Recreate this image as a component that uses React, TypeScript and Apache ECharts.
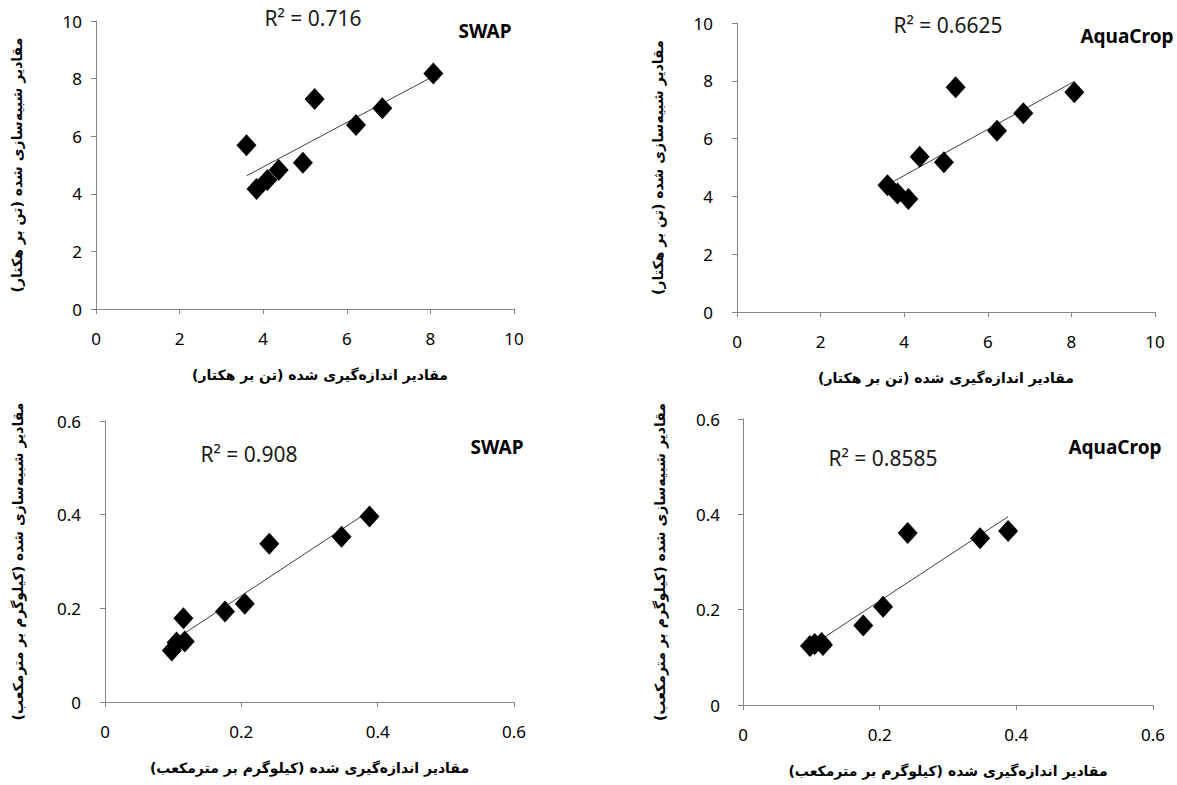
import React, { useEffect, useRef } from "react";
import * as echarts from "echarts";

// Yield (t/ha): measured vs simulated
const yieldMeasured = [3.6, 3.84, 4.1, 4.37, 4.95, 5.23, 6.22, 6.85, 8.07];
const yieldSwap = [5.69, 4.17, 4.48, 4.83, 5.08, 7.29, 6.39, 6.97, 8.18];
const yieldAqua = [4.39, 4.1, 3.91, 5.37, 5.18, 7.78, 6.27, 6.88, 7.6];

// Water productivity (kg/m3): measured vs simulated
const wpMeasured = [0.098, 0.105, 0.115, 0.117, 0.176, 0.205, 0.241, 0.347, 0.388];
const wpSwap = [0.11, 0.127, 0.179, 0.129, 0.193, 0.21, 0.338, 0.353, 0.396];
const wpAqua = [0.124, 0.128, 0.13, 0.126, 0.167, 0.206, 0.361, 0.35, 0.365];

const r2Labels = ["R² = 0.716", "R² = 0.6625", "R² = 0.908", "R² = 0.8585"];
const modelLabels = ["SWAP", "AquaCrop", "SWAP", "AquaCrop"];

const xTitleYield = "مقادیر اندازه‌گیری شده (تن بر هکتار)";
const yTitleYield = "مقادیر شبیه‌سازی شده (تن بر هکتار)";
const xTitleWp = "مقادیر اندازه‌گیری شده (کیلوگرم بر مترمکعب)";
const yTitleWp = "مقادیر شبیه‌سازی شده (کیلوگرم بر مترمکعب)";

function trend(xs: number[], ys: number[]) {
  const n = xs.length;
  const mx = xs.reduce((a, b) => a + b, 0) / n;
  const my = ys.reduce((a, b) => a + b, 0) / n;
  let sxy = 0, sxx = 0;
  for (let i = 0; i < n; i++) {
    sxy += (xs[i] - mx) * (ys[i] - my);
    sxx += (xs[i] - mx) * (xs[i] - mx);
  }
  const b = sxy / sxx;
  const a = my - b * mx;
  const x0 = Math.min(...xs), x1 = Math.max(...xs);
  return [[x0, a + b * x0], [x1, a + b * x1]];
}

export default function App() {
  const ref = useRef<HTMLDivElement>(null);
  useEffect(() => {
    if (!ref.current) return;
    const chart = echarts.init(ref.current, undefined, { renderer: "svg" });

    const grids = [
      { left: 96, top: 21, width: 418, height: 288 },
      { left: 737, top: 23, width: 418, height: 289 },
      { left: 105, top: 421, width: 409, height: 281 },
      { left: 743, top: 419, width: 410, height: 286 },
    ];
    const panels = [
      { xs: yieldMeasured, ys: yieldSwap, max: 10, interval: 2, xt: xTitleYield, yt: yTitleYield, yGap: 72, yMargin: 14, xPad: 30 },
      { xs: yieldMeasured, ys: yieldAqua, max: 10, interval: 2, xt: xTitleYield, yt: yTitleYield, yGap: 72, yMargin: 24, xPad: 0 },
      { xs: wpMeasured, ys: wpSwap, max: 0.6, interval: 0.2, xt: xTitleWp, yt: yTitleWp, yGap: 80, yMargin: 24, xPad: 0 },
      { xs: wpMeasured, ys: wpAqua, max: 0.6, interval: 0.2, xt: xTitleWp, yt: yTitleWp, yGap: 76, yMargin: 23, xPad: 0 },
    ];

    const axisBase = {
      axisLine: { show: true, lineStyle: { color: "#868686", width: 1 } },
      axisTick: { show: true, inside: false, length: 5, lineStyle: { color: "#868686" } },
      splitLine: { show: false },
    };
    const nameStyle = { color: "#000", fontSize: 14, fontWeight: "bold", fontFamily: "DejaVu Sans" };
    const labelStyle = { color: "#000", fontSize: 17, fontFamily: "Noto Sans" };

    const xAxis = panels.map((p, i) => ({
      ...axisBase,
      type: "value",
      gridIndex: i,
      min: 0,
      max: p.max,
      interval: p.interval,
      axisLabel: { ...labelStyle, margin: 21 },
      name: p.xt,
      nameLocation: "middle",
      nameGap: 59,
      nameTextStyle: { ...nameStyle, padding: [0, 0, 0, p.xPad] },
    }));
    const yAxis = panels.map((p, i) => ({
      ...axisBase,
      type: "value",
      gridIndex: i,
      min: 0,
      max: p.max,
      interval: p.interval,
      axisLabel: { ...labelStyle, margin: p.yMargin },
      name: p.yt,
      nameLocation: "middle",
      nameGap: p.yGap,
      nameRotate: 90,
      nameTextStyle: nameStyle,
    }));

    const series: any[] = [];
    panels.forEach((p, i) => {
      series.push({
        type: "line",
        xAxisIndex: i,
        yAxisIndex: i,
        data: trend(p.xs, p.ys),
        symbol: "none",
        lineStyle: { color: "#404040", width: 1 },
        silent: true,
        z: 2,
      });
      series.push({
        type: "scatter",
        xAxisIndex: i,
        yAxisIndex: i,
        data: p.xs.map((x, k) => [x, p.ys[k]]),
        symbol: "diamond",
        symbolSize: [20, 22],
        itemStyle: { color: "#000", opacity: 1 },
        z: 3,
      });
    });

    const r2Pos = [[313, 18], [948, 25], [249, 454], [883, 458]];
    const modelPos = [[485, 31], [1127, 36], [497, 447], [1115, 447]];
    const graphic: any[] = [];
    r2Labels.forEach((t, i) => {
      graphic.push({
        type: "text",
        x: r2Pos[i][0],
        y: r2Pos[i][1],
        style: { text: t, fill: "#1a1a1a", fontSize: 21, fontFamily: "Noto Sans", align: "center", verticalAlign: "middle" },
      });
    });
    modelLabels.forEach((t, i) => {
      graphic.push({
        type: "text",
        x: modelPos[i][0],
        y: modelPos[i][1],
        style: { text: t, fill: "#000", fontSize: 19, fontWeight: "bold", fontFamily: "Noto Sans", align: "center", verticalAlign: "middle" },
      });
    });

    chart.setOption({
      animation: false,
      backgroundColor: "#fff",
      grid: grids,
      xAxis,
      yAxis,
      series,
      graphic,
    });
    return () => chart.dispose();
  }, []);

  return (
    <div
      ref={ref}
      style={{ position: "fixed", left: 0, top: 0, width: 1177, height: 785, background: "#fff" }}
    />
  );
}
